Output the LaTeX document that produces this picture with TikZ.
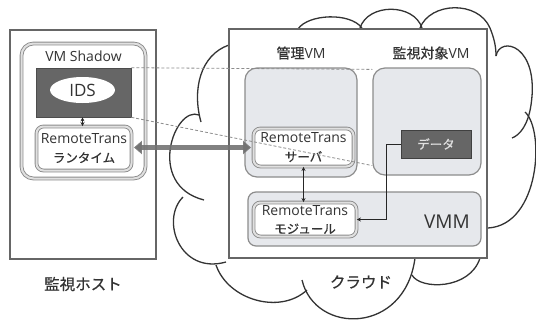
\documentclass[tikz,border=0pt]{standalone}
\usepackage{fontspec}
\setmainfont{Open Sans}
\newfontfamily\jp[FakeBold=0.6]{Noto Sans CJK JP}
\usetikzlibrary{arrows.meta,shapes.geometric,calc}
\definecolor{txt}{HTML}{333333}
\definecolor{vmfill}{HTML}{E6E8EC}
\definecolor{darkbox}{HTML}{666666}
\tikzset{
  lbl/.style={text=txt, inner sep=0pt},
  dbox/.style={rounded corners=7pt, draw=black!45, double=black!12, double distance=2pt, line width=0.9pt, fill=white, inner sep=0pt, text=txt, align=center, font=\fontsize{14}{18.5}\selectfont},
  vmbox/.style={rounded corners=12pt, draw=black!45, line width=1.2pt, fill=vmfill, inner sep=0pt},
  bigrect/.style={draw=black!60, line width=1.6pt, inner sep=0pt},
  cloudline/.style={draw=black!80, line width=1.3pt},
  dashln/.style={draw=black!45, dash pattern=on 3pt off 2pt, line width=0.8pt},
  thickarr/.style={draw=black!55, draw opacity=0.9, line width=5.5pt, {Triangle[length=8pt,width=13pt]}-{Triangle[length=8pt,width=13pt]}},
  thinarr/.style={draw=black!85, line width=0.8pt},
}
\newcommand{\jsub}[1]{{\jp\fontsize{12.5}{18.5}\selectfont #1}}
\begin{document}
\begin{tikzpicture}[x=1pt,y=-1pt]
\useasboundingbox (0,0) rectangle (536,325);
% monitoring host
\node[bigrect, minimum width=146pt, minimum height=229pt] (host) at (83,144.5) {};
\node[lbl, font=\jp\fontsize{15.5}{18}\selectfont] (hostlbl) at (83,284) {監視ホスト};
\node[dbox, rounded corners=12pt, minimum width=124pt, minimum height=135pt] (shadow) at (83.5,111) {};
\node[lbl, font=\fontsize{14}{16}\selectfont] (shadowlbl) at (83.5,56) {VM Shadow};
\node[fill=darkbox, draw=black!70, line width=0.6pt, minimum width=95pt, minimum height=49pt, inner sep=0pt] (idsbg) at (83.5,92.5) {};
\node[ellipse, fill=white, minimum width=65pt, minimum height=26pt, inner sep=0pt, text=txt, font=\fontsize{17}{19}\selectfont] (ids) at (82.5,90) {IDS};
\node[dbox, minimum width=95pt, minimum height=44pt] (runtime) at (84,148.5)
  {RemoteTrans\\\jsub{ランタイム}};
\draw[thinarr, {Stealth[length=4pt,width=4pt]}-{Stealth[length=4pt,width=4pt]}] (idsbg.south -| ids.south) -- (runtime.north -| ids.south);
% cloud arcs
\draw[cloudline] (229,45) .. controls (200,55) and (192,90) .. (201,122);
\draw[cloudline] (199,115) .. controls (175,105) and (145,185) .. (204,200);
\draw[cloudline] (183,197) .. controls (160,220) and (180,275) .. (226,262);
\draw[cloudline] (216,265) .. controls (228,300) and (280,315) .. (307,290);
\draw[cloudline] (302,280) .. controls (315,335) and (405,335) .. (415,258);
\draw[cloudline] (412,275) .. controls (420,290) and (470,290) .. (480,258);
\draw[cloudline] (488,228) .. controls (540,225) and (545,130) .. (525,112);
\draw[cloudline] (496,56) .. controls (500,35) and (540,45) .. (531,105) .. controls (528,125) and (520,135) .. (512,138);
\draw[cloudline] (420,28) .. controls (430,2) and (478,0) .. (490,28) .. controls (494,38) and (496,46) .. (496,56);
\draw[cloudline] (360,28) .. controls (368,3) and (414,3) .. (422,28);
\draw[cloudline] (298,29) .. controls (308,14) and (350,12) .. (362,28);
% cloud rectangle
\node[bigrect, fill=white, minimum width=258pt, minimum height=229pt] (cloud) at (358,143.5) {};
\node[lbl, font=\jp\fontsize{15.5}{18}\selectfont] (cloudlbl) at (361,282) {クラウド};
\node[lbl, font=\fontsize{14}{16}\selectfont] (mgmtlbl) at (301,53) {{\jp 管理}VM};
\node[lbl, font=\fontsize{14}{16}\selectfont] (targetlbl) at (431,53) {{\jp 監視対象}VM};
\node[vmbox, minimum width=112pt, minimum height=109pt] (mgmt) at (301,122.5) {};
\node[vmbox, minimum width=108pt, minimum height=107pt] (target) at (427,121.5) {};
\node[fill=darkbox, draw=black!75, line width=0.8pt, minimum width=70pt, minimum height=28pt, inner sep=0pt, text=black!12, font=\jp\fontsize{12.5}{15}\selectfont] (data) at (436,144) {データ};
\node[dbox, minimum width=100pt, minimum height=38pt] (server) at (303.5,147.5)
  {RemoteTrans\\\jsub{サーバ}};
\node[vmbox, rounded corners=8pt, minimum width=233pt, minimum height=54pt] (vmm) at (364.5,219) {};
\node[lbl, font=\fontsize{19}{21}\selectfont] (vmmlbl) at (447,222) {VMM};
\node[dbox, minimum width=103pt, minimum height=34pt] (module) at (305,219.5)
  {RemoteTrans\\\jsub{モジュール}};
% connectors
\draw[thickarr] ($(server.west)+(-2,0)$) -- ($(server.west -| runtime.east)+(2,0)$);
\draw[thinarr, {Stealth[length=4pt,width=4pt]}-{Stealth[length=4pt,width=4pt]}] (server.south) -- (server.south |- module.north);
\draw[thinarr, -{Stealth[length=4pt,width=4pt]}] (data.west) -- ++(-14,0) |- (module.east);
\draw[dashln] (idsbg.north east) -- ($(target.north west)+(0,2)$);
\draw[dashln] (idsbg.south east) -- ($(target.south west)+(0,-10)$);
\end{tikzpicture}
\end{document}
